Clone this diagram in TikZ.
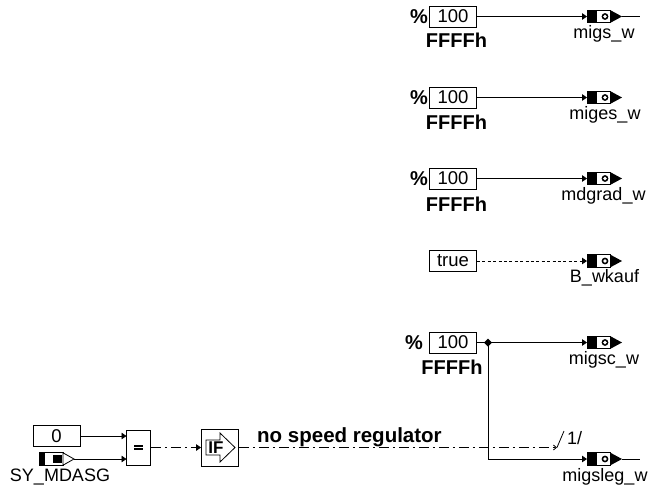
\documentclass[tikz,border=0pt]{standalone}
\usepackage{fontspec}
\setmainfont{Liberation Sans}
\usetikzlibrary{arrows.meta}
\tikzset{
  x=1pt,y=-1pt,
  valbox/.style={draw,line width=0.8pt,minimum width=47pt,minimum height=21pt,inner sep=0pt,font=\fontsize{18.5}{18.5}\selectfont},
  lbl/.style={font=\fontsize{18}{18}\selectfont,inner sep=0pt},
  bld/.style={font=\bfseries\fontsize{20}{20}\selectfont,inner sep=0pt},
  wire/.style={line width=0.8pt,-{Triangle[length=5pt,width=6.5pt]}},
  plainwire/.style={line width=0.8pt},
  dashdot/.style={wire,dash pattern=on 10pt off 4pt on 2pt off 4pt},
  dashline/.style={wire,dash pattern=on 3pt off 2.4pt},
  portbody/.style={draw,line width=0.8pt,minimum width=23pt,minimum height=12.5pt,inner sep=0pt,outer sep=0pt,anchor=west},
}
% output element: #1 name, #2 west x, #3 y
\newcommand{\outport}[3]{%
  \node[portbody] (#1) at (#2,#3) {};
  \fill ([xshift=-0.4pt]#1.north west) rectangle ([xshift=10pt]#1.south west);
  \fill (#2+23,#3-6.5) -- (#2+35,#3) -- (#2+23,#3+6.5) -- cycle;
  \fill (#2+18,#3) circle (3.4pt);
  \fill[white] (#2+18,#3) circle (1.9pt);
  \coordinate (#1tip) at (#2+35,#3);
}
\begin{document}
\begin{tikzpicture}
\useasboundingbox (0,0) rectangle (648,488);
% constants
\node[valbox] (c1) at (453,16.5) {100};
\node[valbox] (c2) at (453,97.5) {100};
\node[valbox] (c3) at (453,178.5) {100};
\node[valbox] (c4) at (453,261) {true};
\node[valbox] (c5) at (453,342.5) {100};
\foreach \n/\y in {a/17,b/98,c/179}{\node[bld] (pct\n) at (419,\y) {\%};}
\node[bld] (pcte) at (414,343) {\%};
\node[bld] (fa) at (456.5,40) {FFFFh};
\node[bld] (fb) at (456.5,122) {FFFFh};
\node[bld] (fc) at (456.5,204) {FFFFh};
\node[bld] (fe) at (452,367) {FFFFh};
% outputs
\outport{o1}{587}{16.5}
\outport{o2}{587}{97.5}
\outport{o3}{587}{178.5}
\outport{o4}{587}{261}
\outport{o5}{587}{342.5}
\outport{o6}{587}{459}
\coordinate (t1) at (640,16.5);
\coordinate (t6) at (640,459);
\draw[plainwire] (o1tip) -- (t1);
\draw[plainwire] (o6tip) -- (t6);
\draw[wire] (c1.east) -- (o1.west);
\draw[wire] (c2.east) -- (o2.west);
\draw[wire] (c3.east) -- (o3.west);
\draw[dashline] (c4.east) -- (o4.west);
\draw[wire] (c5.east) -- (o5.west);
\coordinate (jn) at (488,342.5);
\fill (484,342.5) -- (488,338.5) -- (492,342.5) -- (488,346.5) -- cycle;
\draw[wire] (jn) -- (488,459) -- (o6.west);
\node[lbl] (l1) at (604,33.5) {migs\_w};
\node[lbl] (l2) at (605,114.5) {miges\_w};
\node[lbl] (l3) at (603.5,195.5) {mdgrad\_w};
\node[lbl] (l4) at (604.5,277.5) {B\_wkauf};
\node[lbl] (l5) at (604,359.5) {migsc\_w};
\node[lbl] (l6) at (605,476.5) {migsleg\_w};
% left side
\node[valbox] (zero) at (56.5,436) {0};
\node[draw,line width=0.8pt,minimum width=24pt,minimum height=35pt,inner sep=0pt] (eq) at (138.5,447.5) {};
\fill (eq.center)+(-4.5,-2.8) rectangle +(4.5,-0.8);
\fill (eq.center)+(-4.5,0.8) rectangle +(4.5,2.8);
\node[draw,line width=0.8pt,minimum width=37pt,minimum height=37pt,inner sep=0pt] (ifb) at (220,447.5) {};
\draw[line width=0.8pt] (206,440) -- (220,440) -- (220,433) -- (235,447.5) -- (220,462) -- (220,455) -- (206,455) -- cycle;
\node[font=\bfseries\fontsize{17}{17}\selectfont,inner sep=0pt] (iftxt) at (216,447.5) {IF};
% input element
\node[draw,line width=0.8pt,minimum width=24pt,minimum height=12.5pt,inner sep=0pt] (inp) at (51,459) {};
\fill (39,452.8) rectangle (44.5,465.2);
\fill (53,455) rectangle (62,463);
\draw[line width=0.8pt,fill=white] (63,452.8) -- (74,459) -- (63,465.2) -- cycle;
\coordinate (inptip) at (74,459);
\node[lbl] (sy) at (60,476.5) {SY\_MDASG};
\coordinate (eqa) at (126.5,436);
\coordinate (eqb) at (126.5,459);
\draw[wire] (zero.east) -- (eqa);
\draw[wire] (inptip) -- (eqb);
\draw[dashdot] (eq.east) -- (ifb.west);
\coordinate (sw) at (557,447.5);
\draw[line width=0.8pt,dash pattern=on 10pt off 4pt on 2pt off 4pt,-{Straight Barb[length=3pt,width=5pt]}] (ifb.east) -- (sw);
\coordinate (swt) at (564,431);
\draw[line width=0.8pt] (sw) -- (swt);
\node[lbl,anchor=west] (one) at (567,438) {1/};
\node[font=\bfseries\fontsize{20.5}{20.5}\selectfont,inner sep=0pt,anchor=west] (nsr) at (257,437) {no speed regulator};
\end{tikzpicture}
\end{document}
